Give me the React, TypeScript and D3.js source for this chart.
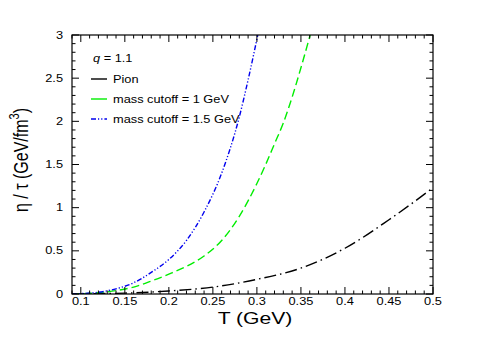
import React, { useRef, useEffect } from "react";
import * as d3 from "d3";

// temperature grid (GeV) and eta/tau values (GeV/fm^3)
const pionT = [0.09, 0.1, 0.15, 0.2, 0.25, 0.3, 0.35, 0.4, 0.45, 0.5];
const pionV = [0.0, 0.002, 0.01, 0.035, 0.08, 0.17, 0.3, 0.53, 0.86, 1.23];

const cut1T = [0.09, 0.1, 0.12, 0.14, 0.16, 0.18, 0.2, 0.22, 0.24, 0.26, 0.28, 0.3, 0.31, 0.32, 0.33, 0.34, 0.35, 0.3605];
const cut1V = [0.0, 0.003, 0.015, 0.04, 0.08, 0.15, 0.23, 0.32, 0.44, 0.62, 0.9, 1.28, 1.5, 1.74, 1.98, 2.28, 2.62, 3.0];

const cut15T = [0.09, 0.1, 0.12, 0.14, 0.16, 0.18, 0.2, 0.22, 0.24, 0.26, 0.28, 0.29, 0.301];
const cut15V = [0.0, 0.005, 0.02, 0.06, 0.13, 0.25, 0.4, 0.62, 0.95, 1.4, 2.05, 2.48, 3.0];

const xTicks = [0.1, 0.15, 0.2, 0.25, 0.3, 0.35, 0.4, 0.45, 0.5];
const yTicks = [0, 0.5, 1, 1.5, 2, 2.5, 3];

const legendLabels = ["Pion", "mass cutoff = 1 GeV", "mass cutoff = 1.5 GeV"];

const W = 481;
const H = 346;
const font = "'Liberation Sans', Arial, sans-serif";
// the original picture is stretched sideways, so glyphs are too
const sx = 1.28;

const App = () => {
  const ref = useRef<SVGSVGElement>(null);

  useEffect(() => {
    const svg = d3.select(ref.current);
    svg.selectAll("*").remove();

    const left = 72, right = 433, top = 35, bottom = 294;
    const x = d3.scaleLinear().domain([0.09, 0.5]).range([left, right]);
    const y = d3.scaleLinear().domain([0, 3]).range([bottom, top]);

    svg.append("defs").append("clipPath").attr("id", "plotclip")
      .append("rect").attr("x", left).attr("y", top).attr("width", right - left).attr("height", bottom - top);

    const series = [
      { t: pionT, v: pionV, color: "#000000", dash: "12,4,1.5,4", width: 1.4 },
      { t: cut1T, v: cut1V, color: "#00ee00", dash: "8,4", width: 1.4 },
      { t: cut15T, v: cut15V, color: "#0000ee", dash: "5,2,1.2,2,1.2,2", width: 1.4 },
    ];

    const line = d3.line<[number, number]>()
      .x((d) => x(d[0]))
      .y((d) => y(d[1]))
      .curve(d3.curveMonotoneX);

    const g = svg.append("g").attr("clip-path", "url(#plotclip)");
    series.forEach((s) => {
      g.append("path")
        .attr("d", line(s.t.map((t, i) => [t, s.v[i]] as [number, number])))
        .attr("fill", "none")
        .attr("stroke", s.color)
        .attr("stroke-width", s.width)
        .attr("stroke-dasharray", s.dash);
    });

    // frame
    svg.append("rect")
      .attr("x", left).attr("y", top)
      .attr("width", right - left).attr("height", bottom - top)
      .attr("fill", "none").attr("stroke", "#000").attr("stroke-width", 1.2);

    // ticks on all four sides, pointing inward
    const ticks = svg.append("g").attr("stroke", "#000").attr("stroke-width", 1);
    const xMinor = d3.range(9, 51).map((d) => d / 100);
    xMinor.forEach((v) => {
      const major = xTicks.some((t) => Math.abs(t - v) < 1e-6);
      const len = major ? 7 : 3.5;
      ticks.append("line").attr("x1", x(v)).attr("x2", x(v)).attr("y1", bottom).attr("y2", bottom - len);
      ticks.append("line").attr("x1", x(v)).attr("x2", x(v)).attr("y1", top).attr("y2", top + len);
    });
    const yMinor = d3.range(0, 31).map((d) => d / 10);
    yMinor.forEach((v) => {
      const major = yTicks.some((t) => Math.abs(t - v) < 1e-6);
      const len = major ? 7 : 3.5;
      ticks.append("line").attr("x1", left).attr("x2", left + len).attr("y1", y(v)).attr("y2", y(v));
      ticks.append("line").attr("x1", right).attr("x2", right - len).attr("y1", y(v)).attr("y2", y(v));
    });

    // tick labels
    svg.append("g").selectAll("text").data(xTicks).enter().append("text")
      .attr("transform", (d) => `translate(${x(d)},${bottom + 10.5}) scale(${sx},1)`)
      .attr("text-anchor", "middle")
      .style("font-family", font).style("font-size", "10px")
      .text((d) => String(d));

    svg.append("g").selectAll("text").data(yTicks).enter().append("text")
      .attr("transform", (d) => `translate(${left - 9},${y(d) + 3.6}) scale(${sx},1)`)
      .attr("text-anchor", "end")
      .style("font-family", font).style("font-size", "10px")
      .text((d) => String(d));

    // axis titles
    svg.append("text")
      .attr("transform", `translate(255,324) scale(${sx},1)`)
      .attr("text-anchor", "middle")
      .style("font-family", font).style("font-size", "16.5px")
      .text("T (GeV)");

    const yt = svg.append("text")
      .attr("transform", `translate(28,160) scale(${sx},1) rotate(-90)`)
      .attr("text-anchor", "middle")
      .style("font-family", font).style("font-size", "16px");
    yt.append("tspan").text("η / τ (GeV/fm");
    yt.append("tspan").attr("dy", -7).style("font-size", "11px").text("3");
    yt.append("tspan").attr("dy", 7).text(")");

    // legend
    const q = svg.append("text")
      .attr("transform", `translate(93,62) scale(${sx},1)`)
      .style("font-family", font).style("font-size", "10px");
    q.append("tspan").style("font-style", "italic").text("q");
    q.append("tspan").text(" = 1.1");

    legendLabels.forEach((label, i) => {
      const ly = 79 + i * 20;
      svg.append("line")
        .attr("x1", 91).attr("x2", 107).attr("y1", ly).attr("y2", ly)
        .attr("stroke", series[i].color).attr("stroke-width", 1.4)
        .attr("stroke-dasharray", i === 2 ? "5,2,1.2,2,1.2,2" : null);
      svg.append("text")
        .attr("transform", `translate(113,${ly + 3.6}) scale(${sx},1)`)
        .style("font-family", font).style("font-size", "10px")
        .text(label);
    });
  }, []);

  return <svg ref={ref} width={W} height={H} style={{ display: "block", margin: "-8px" }} />;
};

export default App;
